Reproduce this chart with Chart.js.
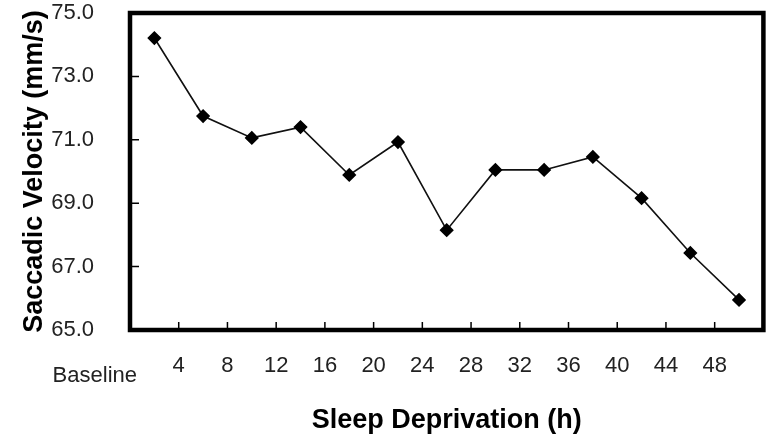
<!DOCTYPE html>
<html>
<head>
<meta charset="utf-8">
<script src="https://cdn.jsdelivr.net/npm/chart.js@4.4.1/dist/chart.umd.min.js"></script>
<style>
  body { margin: 0; background: #fff; }
  #wrap { width: 771px; height: 439px; }
</style>
</head>
<body>
<div id="wrap"><canvas id="sleepChart"></canvas></div>
<script>
const hourLabels = ['Baseline', '4', '8', '12', '16', '20', '24', '28', '32', '36', '40', '44', '48'];
const velocity = [74.21, 71.75, 71.06, 71.40, 69.89, 70.93, 68.15, 70.05, 70.05, 70.46, 69.16, 67.43, 65.95];
const yTicks = [65, 67, 69, 71, 73, 75];

const fontFamily = '"Liberation Sans", Arial, sans-serif';

// box round the plot, inward tick marks and the lower "Baseline" label
const frame = {
    id: 'frame',
    afterDraw(chart) {
        const ctx = chart.ctx;
        const a = chart.chartArea;
        const xs = chart.scales.x;
        const ys = chart.scales.y;
        ctx.save();
        ctx.strokeStyle = '#000';
        ctx.lineWidth = 1.5;
        ctx.beginPath();
        yTicks.forEach(v => {
            const py = ys.getPixelForValue(v);
            ctx.moveTo(a.left, py);
            ctx.lineTo(a.left + 9, py);
        });
        for (let i = 1; i < hourLabels.length; i++) {
            const px = xs.getPixelForValue(i);
            ctx.moveTo(px, a.bottom);
            ctx.lineTo(px, a.bottom - 8);
        }
        ctx.stroke();
        ctx.lineWidth = 4.5;
        ctx.strokeRect(a.left, a.top, a.right - a.left, a.bottom - a.top);
        ctx.fillStyle = '#222';
        ctx.font = '22px ' + fontFamily;
        ctx.textAlign = 'right';
        ctx.textBaseline = 'middle';
        ctx.fillText(hourLabels[0], xs.getPixelForValue(0) + 7, xs.top + 46);
        ctx.restore();
    }
};

new Chart(document.getElementById('sleepChart'), {
    type: 'line',
    data: {
        datasets: [{
            label: 'Saccadic velocity',
            data: velocity.map((v, i) => ({ x: i + 0.5, y: v })),
            borderColor: '#111',
            borderWidth: 1.6,
            backgroundColor: '#000',
            pointStyle: 'rectRot',
            pointRadius: 6,
            pointBackgroundColor: '#000',
            pointBorderColor: '#000',
            tension: 0
        }]
    },
    options: {
        responsive: true,
        maintainAspectRatio: false,
        animation: false,
        layout: {
            padding: { top: 13, right: 6, left: 0, bottom: 0 }
        },
        plugins: {
            legend: { display: false },
            tooltip: { enabled: false }
        },
        scales: {
            x: {
                type: 'linear',
                min: 0,
                max: hourLabels.length,
                afterFit: scale => {
                    scale.height = 109;
                    scale.paddingLeft = 0;
                    scale.paddingRight = 0;
                },
                grid: { display: false },
                border: { display: false },
                ticks: {
                    stepSize: 1,
                    autoSkip: false,
                    maxRotation: 0,
                    padding: 15,
                    color: '#222',
                    font: { family: fontFamily, size: 22 },
                    callback: v => (v > 0 && v < hourLabels.length) ? hourLabels[v] : ''
                },
                title: {
                    display: true,
                    text: 'Sleep Deprivation (h)',
                    color: '#000',
                    padding: { top: 0, bottom: 2 },
                    font: { family: fontFamily, size: 27, weight: 'bold' }
                }
            },
            y: {
                min: yTicks[0],
                max: yTicks[yTicks.length - 1],
                afterFit: scale => {
                    scale.width = 130;
                    scale.paddingTop = 0;
                    scale.paddingBottom = 0;
                },
                afterBuildTicks: scale => { scale.ticks = yTicks.map(v => ({ value: v })); },
                grid: { display: false },
                border: { display: false },
                ticks: {
                    padding: 28,
                    color: '#222',
                    font: { family: fontFamily, size: 22 },
                    callback: v => v.toFixed(1)
                },
                title: {
                    display: true,
                    text: 'Saccadic Velocity (mm/s)',
                    color: '#000',
                    padding: { top: 18, bottom: 0 },
                    font: { family: fontFamily, size: 27, weight: 'bold' }
                }
            }
        }
    },
    plugins: [frame]
});
</script>
</body>
</html>
